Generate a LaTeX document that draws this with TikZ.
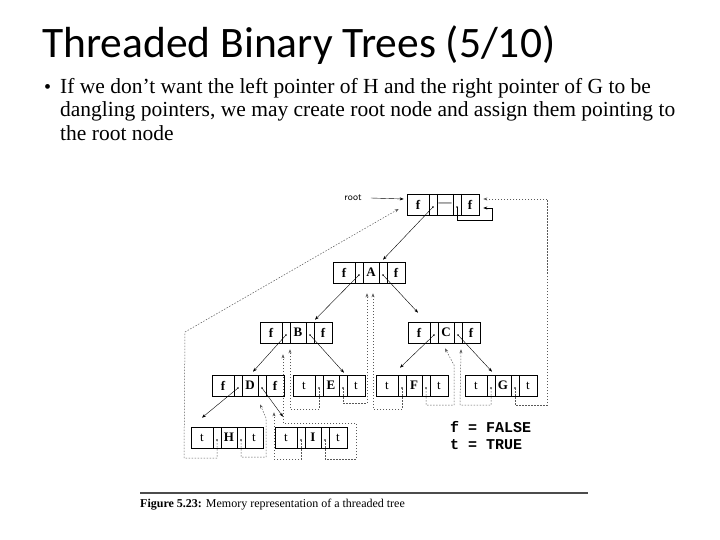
\documentclass[tikz,border=0pt]{standalone}
\usepackage{fontspec}
\setmainfont{Liberation Serif}
\newfontfamily\titlefont{Carlito}
\newfontfamily\legfont{Liberation Mono}
\usetikzlibrary{calc,arrows.meta}
\tikzset{
 rec/.style={draw,line width=0.6pt,minimum width=72pt,minimum height=21pt,inner sep=0pt},
 cellline/.style={line width=0.5pt},
 cell/.style={inner sep=0pt,font=\fontsize{13}{13}\selectfont\bfseries},
 arr/.style={line width=0.4pt,-{Stealth[length=4pt,width=3pt]}},
 thr/.style={line width=0.5pt,gray!70!black,dash pattern=on 1.5pt off 1.5pt,-{Stealth[length=4pt,width=3pt]}},
}
\newcommand\rec[6]{%
 \node[rec] (#1) at ($(#2,#3)+(36,10.5)$) {};
 \foreach \d in {22,30,46,54} \draw[cellline] ($(#2,#3)+(\d,0)$) -- ++(0,21);
 \node[cell] (#1-l) at ($(#2,#3)+(11,10.5)$) {#4};
 \node[cell] (#1-d) at ($(#2,#3)+(38,10.5)$) {#5};
 \node[cell] (#1-r) at ($(#2,#3)+(63,10.5)$) {#6};
 \coordinate (#1-lp) at ($(#2,#3)+(26,13)$);
 \coordinate (#1-rp) at ($(#2,#3)+(50,13)$);
 \fill (#1-lp) circle (0.8pt); \fill (#1-rp) circle (0.8pt);
}
\begin{document}
\begin{tikzpicture}[x=1pt,y=-1pt]
\useasboundingbox[fill=white] (0,0) rectangle (720,540);
\node[anchor=base west,inner sep=0pt,font=\titlefont\fontsize{43.5}{43.5}\selectfont] (title) at (42,58) {Threaded Binary Trees (5/10)};
\node[anchor=base west,inner sep=0pt,font=\fontsize{20}{20}\selectfont] (bul) at (44,94) {•};
\node[anchor=north west,inner sep=0pt,text width=615pt,align=flush left,font=\fontsize{21.5}{23.5}\selectfont] (body) at (60,78) {If we don’t want the left pointer of H and the right pointer of G to be dangling pointers, we may create root node and assign them pointing to the root node};

\rec{root}{407}{194}{f}{\normalfont—}{f}
\rec{A}{333}{262}{f}{A}{f}
\rec{B}{260}{322}{f}{B}{f}
\rec{C}{408}{322}{f}{C}{f}
\rec{D}{212}{375}{f}{D}{f}
\rec{E}{293}{375}{\normalfont t}{E}{\normalfont t}
\rec{F}{376}{375}{\normalfont t}{F}{\normalfont t}
\rec{G}{465}{375}{\normalfont t}{G}{\normalfont t}
\rec{H}{191}{427}{\normalfont t}{H}{\normalfont t}
\rec{I}{275}{427}{\normalfont t}{I}{\normalfont t}

\node[font=\sffamily\fontsize{10}{10}\selectfont,inner sep=1pt] (rootlbl) at (353,198) {root};
\coordinate (rootin) at ($(root.west)+(-3,-5.5)$);
\draw[arr] (rootlbl.east) ++(8,0) -- (rootin);

% solid child pointers
\draw[arr] (root-lp) -- ($(A.north)+(14,-2)$);
\draw[arr] (A-lp) -- ($(B.north)+(19,-2)$);
\draw[arr] (A-rp) -- ($(C.north)+(-26,-9)$);
\draw[arr] (B-lp) -- ($(D.north)+(5,-3)$);
\draw[arr] (B-rp) -- ($(E.north)+(15,-2)$);
\draw[arr] (C-lp) -- ($(F.north)+(-12,-7)$);
\draw[arr] (C-rp) -- ($(G.north)+(-9,-3)$);
\draw[arr] (D-lp) -- ($(H.north)+(-25,-9)$);
\draw[arr] (D-rp) -- ($(I.north)+(-28,-10)$);

% root self loop
\draw[arr] (root-rp) |- (492,220) |- ($(root.east)+(4,3.5)$);
% G right thread to root
\draw[thr] (G-rp) |- (547,405) |- ($(root.east)+(4,-5.5)$);
% H left thread to root
\draw[thr] (H-lp) |- (184,458) -- (185,332) -- ($(root.west)+(-8,4.5)$);
% threads to A
\draw[thr] (E-rp) |- (367,403) -- ($(A.south)+(-2,10)$);
\draw[thr] (F-lp) |- (373,409) -- ($(A.south)+(4,10)$);
% threads to B
\draw[thr] (E-lp) |- (290,409) -- ($(B.south)+(-6,6)$);
\draw[thr] (I-rp) |- (356,459) |- (283,423) -- ($(B.south)+(-13,11)$);
% threads to C
\draw[thr] (F-rp) |- (454,405) -- (454,365) -- ($(C.south)+(1,5)$);
\draw[thr] (G-lp) |- (460,405) -- ($(C.south)+(17,6)$);
% threads to D
\draw[thr] (H-rp) |- (266,457) -- (266,418) -- ($(D.south)+(12,8)$);
\draw[thr] (I-lp) |- (274,459) -- ($(D.south)+(26,16)$);

% legend
\node[anchor=base west,inner sep=0pt,font=\legfont\bfseries\fontsize{15}{15}\selectfont] (leg1) at (450,432) {f = FALSE};
\node[anchor=base west,inner sep=0pt,font=\legfont\bfseries\fontsize{15}{15}\selectfont] (leg2) at (450,449) {t = TRUE};

% caption
\draw[line width=1.3pt,gray!60!black] (140,493) -- (588,493);
\node[anchor=base west,inner sep=0pt,font=\fontsize{12}{12}\selectfont] (cap) at (140,507) {\textbf{Figure 5.23:} Memory representation of a threaded tree};
\end{tikzpicture}
\end{document}
